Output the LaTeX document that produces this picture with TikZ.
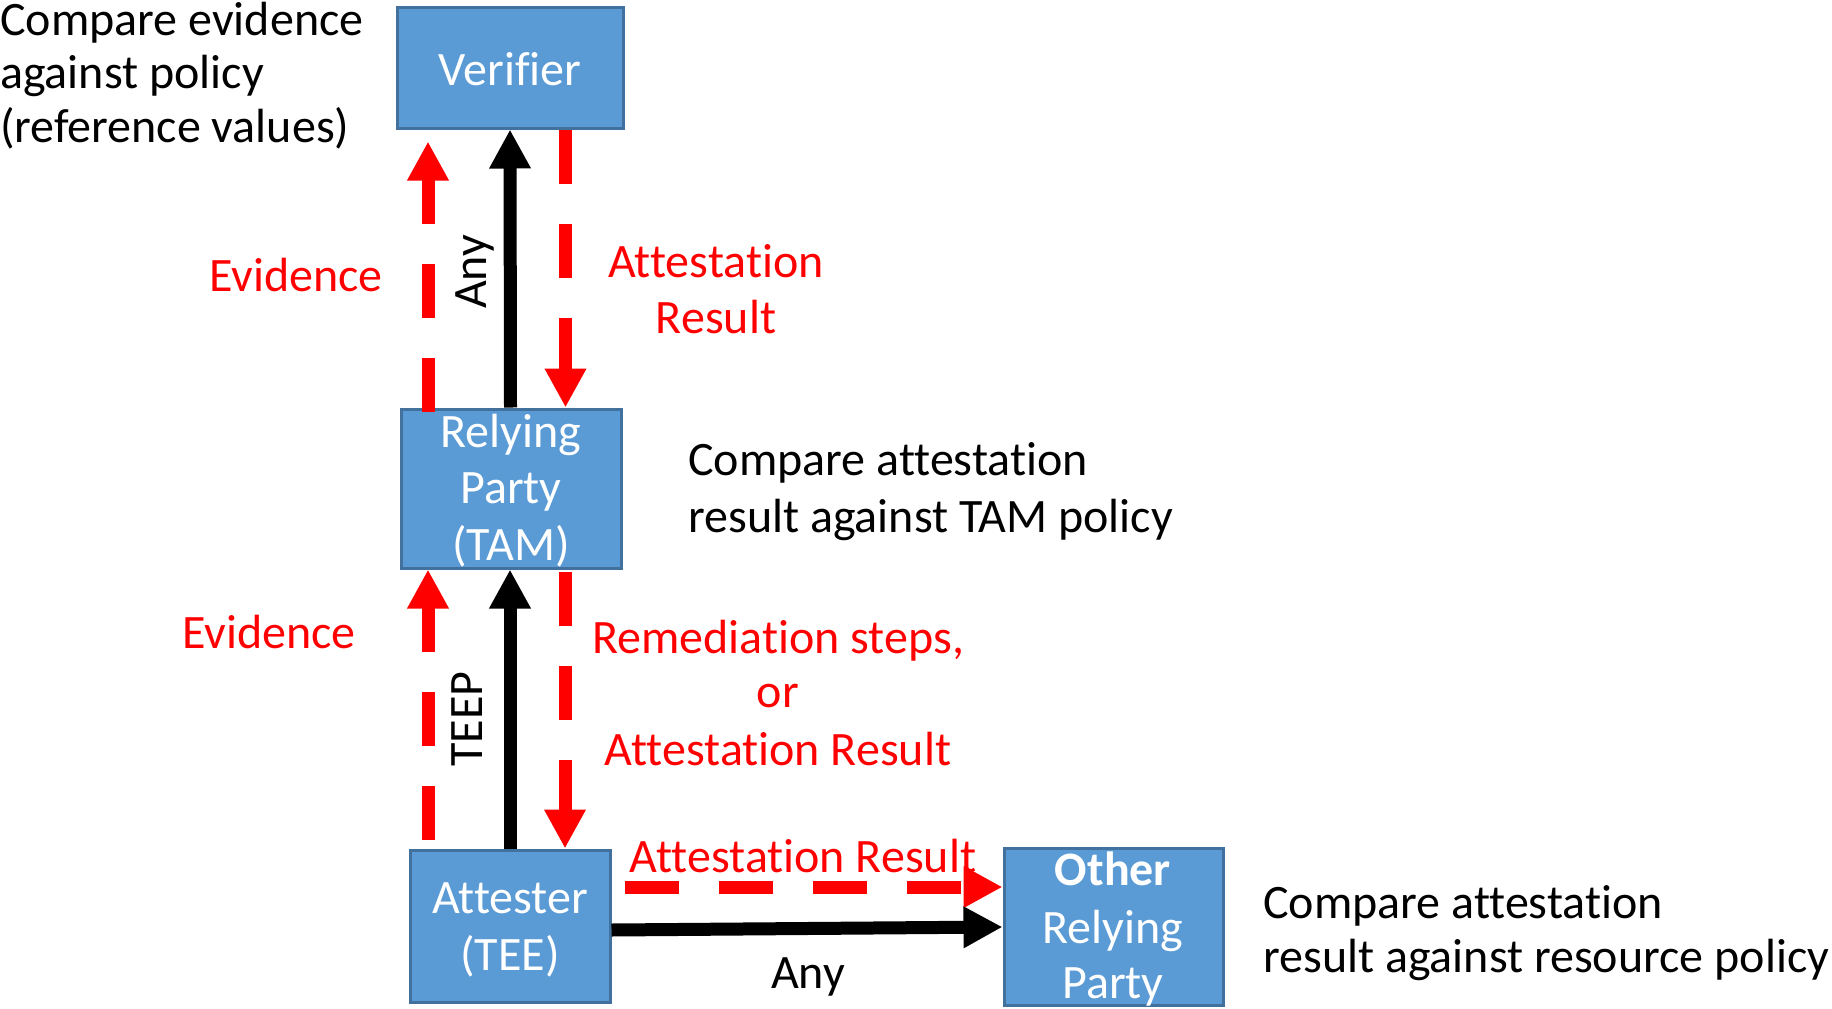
\documentclass[tikz,border=0pt]{standalone}
\usepackage{fontspec}
\setmainfont{Carlito}[Ligatures={NoCommon,NoContextual,NoRequired},Contextuals=NoAlternate]
\usetikzlibrary{arrows.meta,calc}
\definecolor{boxfill}{HTML}{5B9BD5}
\definecolor{boxline}{HTML}{41719C}
\begin{document}
\begin{tikzpicture}[x=1pt,y=-1pt,
  box/.style={draw=boxline, line width=3pt, fill=boxfill, rectangle, inner sep=0pt},
  txt/.style={font=\fontsize{48}{56}\selectfont, inner sep=0pt, anchor=base},
  boxtxt/.style={txt, text=white},
  redtxt/.style={txt, text=red},
  lefttxt/.style={txt, anchor=base west},
  flow/.style={draw=black, line width=13pt, -{Triangle[width=39pt,length=39pt]}},
  redflow/.style={draw=red, line width=13pt, dash pattern=on 54pt off 40pt,
    -{Triangle[width=39pt,length=39pt]}},
]
\useasboundingbox (0,0) rectangle (1832,1009);

% boxes
\node[box, minimum width=226pt, minimum height=121pt] (ver) at (510,67.5) {};
\node[box, minimum width=220pt, minimum height=159pt] (rp)  at (511,488.5) {};
\node[box, minimum width=200pt, minimum height=152pt] (att) at (510,926) {};
\node[box, minimum width=219pt, minimum height=157pt] (oth) at (1113.5,926.5) {};

% box captions
\node[boxtxt] (ver-t) at (510,85) {Verifier};
\node[boxtxt] (rp-t1) at (511,447) {Relying};
\node[boxtxt] (rp-t2) at (511,503) {Party};
\node[boxtxt] (rp-t3) at (511,560) {(TAM)};
\node[boxtxt] (att-t1) at (510,913) {Attester};
\node[boxtxt] (att-t2) at (510,970) {(TEE)};
\node[boxtxt, font=\fontsize{48}{56}\selectfont\bfseries] (oth-t1) at (1113,885) {Other};
\node[boxtxt] (oth-t2) at (1113,943) {Relying};
\node[boxtxt] (oth-t3) at (1113,998) {Party};

% verifier <-> relying party
\draw[redflow] ($(rp.north)+(-83,4)$) -- ($(ver.south)+(-82,12)$);
\draw[flow] ($(rp.north)+(-0.5,0)$) -- (ver.south);
\draw[redflow] ($(ver.south)+(55.5,0)$) -- ($(rp.north)+(54.5,0)$);

% relying party <-> attester
\draw[redflow] ($(att.north)+(-82,-9)$) -- ($(rp.south)+(-83,0)$);
\draw[flow] (att.north) -- ($(rp.south)+(-1,0)$);
\draw[redflow] ($(rp.south)+(54,2)$) -- ($(att.north)+(55,0)$);

% attester -> other relying party
\draw[redflow] ($(att.east)+(13,-39)$) -- ($(oth.west)+(0,-39.5)$);
\draw[flow] ($(att.east)+(0,4)$) -- ($(oth.west)+(0,0.5)$);

% connector labels
\node[redtxt] (ev1) at (296,291) {Evidence};
\node[txt, rotate=90] (any1) at (486,272) {Any};
\node[redtxt] (ar1) at (716,277) {Attestation};
\node[redtxt] (ar2) at (716,333) {Result};

\node[redtxt] (ev2) at (269,648) {Evidence};
\node[txt, rotate=90] (teep) at (482,719) {TEEP};
\node[redtxt] (rem1) at (778,653) {Remediation steps,};
\node[redtxt] (rem2) at (778,707) {or};
\node[redtxt] (rem3) at (778,765) {Attestation Result};

\node[redtxt] (ar3) at (803,872) {Attestation Result};
\node[txt] (any2) at (808,988) {Any};

% side notes
\node[lefttxt] (n1a) at (0,35) {Compare evidence};
\node[lefttxt] (n1b) at (0,88) {against policy};
\node[lefttxt] (n1c) at (0,142) {(reference values)};
\node[lefttxt] (n2a) at (688,475) {Compare attestation};
\node[lefttxt] (n2b) at (688,532) {result against TAM policy};
\node[lefttxt] (n3a) at (1263,918) {Compare attestation};
\node[lefttxt] (n3b) at (1263,972) {result against resource policy};
\end{tikzpicture}
\end{document}
